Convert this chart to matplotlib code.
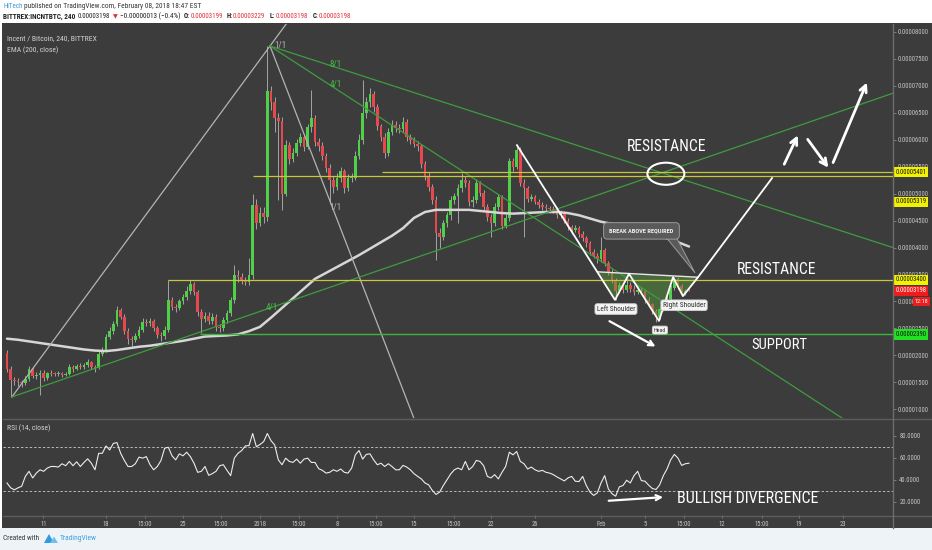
import os
import numpy as np
import matplotlib
matplotlib.use("Agg")
import matplotlib.pyplot as plt
import matplotlib.transforms as mtransforms
from matplotlib import font_manager
from matplotlib.font_manager import FontProperties
from matplotlib.lines import Line2D
from matplotlib.patches import Rectangle, Ellipse, Polygon

# ---------------------------------------------------------------------------
# INCNT/BTC (Bittrex), 8-hour candles starting 9 Dec 2017, prices in 1e-5 BTC
# ---------------------------------------------------------------------------
first_open = 2.05
closes = [
    1.75, 1.55, 1.52, 1.50, 1.48, 1.56, 1.74, 1.62, 1.64, 1.67,
    1.58, 1.67, 1.66, 1.65, 1.67, 1.64, 1.66, 1.78, 1.75, 1.80,
    1.79, 1.82, 1.88, 1.78, 1.76, 2.02, 2.10, 2.35, 2.45, 2.58,
    2.85, 2.72, 2.45, 2.30, 2.28, 2.36, 2.48, 2.62, 2.60, 2.64,
    2.50, 2.38, 2.36, 2.48, 3.02, 2.90, 2.88, 3.00, 3.08, 3.20,
    3.32, 3.18, 2.80, 2.68, 2.74, 2.64, 2.72, 2.52, 2.50, 2.66,
    2.78, 3.02, 3.50, 3.45, 3.40, 3.36, 3.50, 4.79, 4.46, 4.64,
    4.57, 6.90, 6.70, 6.40, 6.35, 5.00, 5.90, 5.65, 5.76, 5.94,
    6.05, 5.87, 6.24, 6.40, 5.95, 5.88, 5.70, 5.48, 5.25, 5.12,
    5.30, 5.42, 5.10, 5.30, 5.30, 5.70, 6.00, 6.50, 6.70, 6.85,
    6.60, 6.25, 6.05, 5.75, 6.15, 6.28, 6.22, 6.20, 6.33, 6.05,
    6.00, 5.92, 5.88, 5.55, 5.32, 5.12, 4.88, 4.27, 4.20, 4.45,
    4.60, 4.88, 4.95, 5.10, 5.25, 5.20, 4.85, 4.88, 5.20, 5.01,
    4.75, 4.57, 4.46, 4.75, 4.94, 4.40, 4.55, 5.60, 5.50, 5.81,
    5.20, 5.10, 4.90, 4.94, 4.85, 4.79, 4.75, 4.73, 4.72, 4.70,
    4.60, 4.64, 4.50, 4.38, 4.33, 4.36, 4.25, 4.18, 4.08, 3.92,
    3.85, 3.78, 3.96, 3.72, 3.55, 3.40, 3.20, 3.30, 3.22, 3.30,
    3.24, 3.18, 3.22, 3.20, 3.02, 2.95, 2.82, 2.72, 2.86, 2.98,
    3.05, 3.25, 3.42, 3.28, 3.16, 3.199, 3.198,
]
highs = [
    2.10, 1.80, 1.60, 1.58, 1.55, 1.62, 1.80, 1.78, 1.70, 1.72,
    1.72, 1.70, 1.72, 1.70, 1.71, 1.70, 1.70, 1.84, 1.82, 1.84,
    1.85, 1.86, 1.93, 1.90, 1.82, 2.08, 2.16, 2.40, 2.52, 2.64,
    2.92, 2.88, 2.76, 2.50, 2.36, 2.42, 2.55, 2.70, 2.68, 2.70,
    2.68, 2.55, 2.44, 2.55, 3.40, 3.08, 2.96, 3.05, 3.14, 3.28,
    3.40, 3.36, 3.22, 2.86, 2.80, 2.80, 2.78, 2.76, 2.58, 2.72,
    2.84, 3.08, 3.68, 3.58, 3.52, 3.46, 3.80, 5.00, 4.90, 4.76,
    4.75, 7.74, 7.00, 6.80, 6.50, 6.42, 6.00, 5.96, 5.84, 6.02,
    6.12, 6.10, 6.30, 6.92, 6.46, 6.04, 5.95, 5.76, 5.55, 5.32,
    5.38, 5.50, 5.46, 5.36, 5.38, 5.80, 6.10, 7.11, 6.80, 6.96,
    6.90, 6.66, 6.30, 6.12, 6.22, 6.36, 6.34, 6.30, 6.42, 6.38,
    6.10, 6.06, 5.98, 5.92, 5.60, 5.40, 5.18, 4.95, 4.36, 4.52,
    4.66, 4.95, 5.02, 5.18, 5.38, 5.32, 5.26, 4.95, 5.28, 5.24,
    5.06, 4.80, 4.62, 4.82, 5.00, 4.98, 4.62, 5.66, 5.66, 5.90,
    5.86, 5.28, 5.14, 5.00, 4.98, 4.90, 4.84, 4.80, 4.78, 4.77,
    4.76, 4.70, 4.68, 4.55, 4.42, 4.42, 4.40, 4.30, 4.22, 4.12,
    3.98, 3.90, 4.20, 4.00, 3.76, 3.60, 3.44, 3.36, 3.34, 3.51,
    3.36, 3.30, 3.28, 3.26, 3.24, 3.08, 2.98, 2.86, 2.90, 3.02,
    3.10, 3.30, 3.46, 3.45, 3.32, 3.24, 3.229,
]
lows = [
    1.70, 1.23, 1.45, 1.44, 1.42, 1.45, 1.52, 1.58, 1.56, 1.27,
    1.52, 1.55, 1.62, 1.61, 1.62, 1.60, 1.61, 1.64, 1.70, 1.72,
    1.74, 1.75, 1.78, 1.74, 1.70, 1.74, 1.98, 2.06, 2.30, 2.40,
    2.54, 2.68, 2.40, 2.22, 2.18, 2.24, 2.32, 2.44, 2.54, 2.55,
    2.45, 2.32, 2.26, 2.30, 2.44, 2.84, 2.80, 2.84, 2.95, 3.02,
    3.14, 3.12, 2.74, 2.42, 2.62, 2.58, 2.58, 2.46, 2.44, 2.46,
    2.60, 2.74, 2.98, 3.36, 3.32, 3.30, 3.30, 3.42, 4.35, 4.40,
    4.45, 4.50, 6.55, 6.14, 4.88, 4.70, 4.95, 5.55, 5.58, 5.70,
    5.88, 5.80, 5.82, 6.15, 5.88, 5.80, 5.62, 5.40, 4.83, 5.02,
    5.06, 5.22, 5.01, 5.05, 5.22, 5.25, 5.64, 5.92, 6.40, 6.60,
    6.52, 6.18, 5.98, 5.66, 5.70, 6.08, 6.14, 6.12, 6.14, 5.98,
    5.92, 5.86, 5.80, 5.48, 5.26, 5.05, 4.80, 3.77, 4.00, 4.14,
    4.38, 4.52, 4.80, 4.45, 5.04, 5.12, 4.78, 4.75, 4.82, 4.95,
    4.70, 4.50, 4.20, 4.40, 4.70, 4.34, 4.36, 4.50, 5.42, 5.45,
    5.14, 4.20, 4.84, 4.86, 4.80, 4.74, 4.70, 4.68, 4.66, 4.64,
    4.55, 4.55, 4.45, 4.32, 4.26, 4.28, 4.20, 4.12, 4.02, 3.86,
    3.80, 3.72, 3.74, 3.66, 3.50, 3.34, 3.03, 3.16, 3.16, 3.18,
    3.18, 3.12, 3.14, 3.14, 2.98, 2.90, 2.76, 2.62, 2.68, 2.82,
    2.94, 3.00, 3.22, 3.24, 3.10, 3.12, 3.198,
]
# RSI(14) sampled on the same 8-hour grid
rsi = [
    37.0, 32.6, 30.8, 32.6, 34.0, 43.0, 47.6, 41.6, 46.0, 49.0,
    47.6, 50.6, 52.0, 52.0, 51.5, 54.5, 52.7, 56.6, 52.7, 56.3,
    52.0, 55.7, 59.0, 55.0, 49.0, 64.0, 64.0, 70.7, 67.0, 73.0,
    73.7, 64.0, 57.5, 52.0, 52.0, 54.5, 60.5, 59.6, 61.0, 53.6,
    49.0, 52.0, 57.5, 68.6, 69.5, 61.7, 58.0, 63.5, 61.7, 65.0,
    61.0, 55.0, 46.7, 47.6, 52.0, 44.0, 45.5, 47.6, 52.7, 53.6,
    48.5, 43.7, 59.6, 64.0, 66.5, 70.7, 71.0, 82.0, 70.0, 72.0,
    74.6, 82.0, 75.5, 71.6, 58.0, 53.6, 59.6, 56.6, 55.7, 58.7,
    55.0, 58.7, 59.6, 55.7, 55.7, 50.0, 48.5, 46.0, 46.7, 49.0,
    47.6, 49.7, 46.7, 46.0, 50.6, 62.6, 66.5, 58.7, 63.0, 63.5,
    58.0, 53.6, 55.0, 52.0, 54.5, 52.0, 49.0, 49.0, 53.0, 51.5,
    49.0, 45.5, 43.0, 40.7, 37.0, 35.3, 30.2, 26.6, 28.7, 34.7,
    40.0, 45.2, 49.0, 50.6, 49.0, 56.6, 49.0, 52.0, 57.5, 56.6,
    52.7, 43.0, 41.6, 44.6, 40.7, 46.7, 52.0, 65.0, 62.6, 65.6,
    56.6, 54.5, 49.7, 51.5, 49.0, 47.6, 48.5, 46.7, 46.0, 44.6,
    42.5, 40.7, 38.9, 41.6, 43.0, 38.6, 38.3, 43.0, 34.7, 28.7,
    25.7, 28.0, 37.0, 43.7, 31.7, 27.2, 25.0, 33.5, 34.7, 39.5,
    37.0, 43.7, 47.6, 39.2, 38.6, 35.0, 32.0, 31.1, 35.3, 43.7,
    49.7, 58.0, 63.0, 59.6, 53.0, 54.5, 55.0,
]
# EMA(200, close), one value per day from 9 Dec 2017
ema200 = [
    2.31, 2.29, 2.26, 2.23, 2.20, 2.17, 2.14, 2.11, 2.09, 2.08,
    2.10, 2.13, 2.16, 2.18, 2.21, 2.24, 2.27, 2.31, 2.35, 2.36,
    2.37, 2.39, 2.45, 2.53, 2.70, 2.88, 3.06, 3.24, 3.42, 3.53,
    3.64, 3.75, 3.86, 3.98, 4.10, 4.22, 4.36, 4.55, 4.66, 4.70,
    4.70, 4.70, 4.70, 4.68, 4.66, 4.64, 4.63, 4.64, 4.65, 4.66,
    4.66, 4.64, 4.60, 4.54, 4.48, 4.44, 4.40, 4.37, 4.30, 4.24,
    4.17, 4.10, 4.02,
]
start_day = -23          # days relative to 1 Jan 2018
resistance_upper = 5.401
resistance_upper_b = 5.319
resistance_lower = 3.400
support_level = 2.390
price_ticks = [1.0, 1.5, 2.0, 2.5, 3.0, 3.5, 4.0, 4.5, 5.0, 5.5, 6.0, 6.5, 7.0, 7.5, 8.0]
rsi_ticks = [20, 40, 60, 80]
time_tick_days = [-19.7, -14, -10.45, -7, -3.55, 0, 3.55, 7, 10.55, 14, 17.64,
                  21, 25, 31, 35, 38.55, 42, 45.64, 49, 53]
time_tick_labels = ["11", "18", "15:00", "25", "15:00", "2018", "15:00", "8",
                    "15:00", "15", "15:00", "22", "26", "Feb", "5", "15:00",
                    "12", "15:00", "19", "23"]

# ---------------------------------------------------------------------------
# fonts: prefer a narrow face, fall back to Liberation Sans
_files = [f.fname for f in font_manager.fontManager.ttflist]


def pick_font(keys):
    for k in keys:
        for fn in _files:
            if k.lower() in os.path.basename(fn).lower():
                return fn
    return None


NARROW_REG = pick_font(["LiberationSansNarrow-Regular", "RobotoCondensed-Regular",
                        "DejaVuSansCondensed.ttf", "Condensed-Regular", "Narrow-Regular"])
NARROW_BOLD = pick_font(["LiberationSansNarrow-Bold.", "RobotoCondensed-Bold.",
                         "DejaVuSansCondensed-Bold.", "Condensed-Bold.", "Narrow-Bold."])


def FP(size=6.0, bold=False):
    fn = NARROW_BOLD if bold else NARROW_REG
    if fn:
        return FontProperties(fname=fn, size=size)
    return FontProperties(family="Liberation Sans", weight="bold" if bold else "normal",
                          size=size)


W, H = 932, 550
BG = "#3c3c3c"
fig = plt.figure(figsize=(W / 100, H / 100), dpi=100)
fig.patch.set_facecolor("white")
renderer = fig.canvas.get_renderer()


def fx(px):
    return px / W


def fy(py):
    return 1 - py / H


def rect(x0, y0, x1, y1):
    return [fx(x0), fy(y1), (x1 - x0) / W, (y1 - y0) / H]


def fit(t, target_px):
    """Scale a text's font size so its rendered width is target_px."""
    w = t.get_window_extent(renderer).width
    if w > 0:
        t.set_fontsize(t.get_fontsize() * target_px / w)
    return t


# page furniture
fig.add_artist(Rectangle((fx(2), fy(528)), 930 / W, 505 / H, transform=fig.transFigure,
                         fc=BG, ec="none", zorder=0))
fig.add_artist(Rectangle((0, 0), 1, 22 / H, transform=fig.transFigure,
                         fc="#eef3f7", ec="none", zorder=0))

ax = fig.add_axes(rect(3, 24, 893, 418))
rax = fig.add_axes(rect(3, 420, 893, 515))
for a in (ax, rax):
    a.set_facecolor(BG)
    for s in a.spines.values():
        s.set_visible(False)

XMIN, XMAX = (3 - 260) / 11, (893 - 260) / 11
ax.set_xlim(XMIN, XMAX)
ax.set_ylim(0.8386, 8.148)
rax.set_xlim(XMIN, XMAX)
rax.set_ylim(7.9, 94.27)
ax.set_autoscale_on(False)
rax.set_autoscale_on(False)

for py in (419, 515.5):
    fig.add_artist(Line2D([fx(3), fx(932)], [fy(py), fy(py)], transform=fig.transFigure,
                          color="#5e5e5e", lw=1.0))
fig.add_artist(Line2D([fx(893), fx(893)], [fy(24), fy(528)], transform=fig.transFigure,
                      color="#6e6e6e", lw=1.0))

# ---------------- candles ----------------
c = np.array(closes)
o = np.array([first_open] + closes[:-1])
hi = np.array(highs)
lo = np.array(lows)
days = start_day + np.arange(len(c)) / 3.0
up = c >= o
ax.vlines(days, lo, hi, color="#a4a4a4", lw=0.7, zorder=2)
body = np.maximum(np.abs(c - o), 0.015)
ax.bar(days, body, bottom=np.minimum(o, c), width=0.26,
       color=np.where(up, "#4fcf4a", "#e5484d"), linewidth=0, zorder=3)

ema_days = start_day + np.arange(len(ema200))
ax.plot(ema_days, ema200, color="#d6d6d6", lw=1.8, zorder=4, solid_capstyle="round")


# ---------------- drawings ----------------
def ray(p0, p1, **kw):
    (x0, y0), (x1, y1) = p0, p1
    ax.plot([x0, x0 + (x1 - x0) * 20], [y0, y0 + (y1 - y0) * 20], **kw)


GREEN = "#3f9c3f"
GREY = "#b4b4b4"
pivot_low = (-22.55, 1.23)
pivot_high = (0.91, 7.74)
ray(pivot_low, pivot_high, color=GREY, lw=0.9, zorder=5)
ray(pivot_high, (13.64, 1.02), color=GREY, lw=0.9, zorder=5)
ray(pivot_high, (57.55, 4.00), color=GREEN, lw=0.9, zorder=5)
ray(pivot_high, (52.9, 0.84), color=GREEN, lw=0.9, zorder=5)
ray(pivot_low, (40.0, 5.63), color=GREEN, lw=0.9, zorder=5)

for (dx, py_, s, col, ha) in [(1.3, 7.74, "1/1", GREY, "left"),
                              (6.9, 7.39, "8/1", "#46c046", "center"),
                              (6.9, 7.02, "4/1", "#46c046", "center"),
                              (6.9, 4.75, "1/1", GREY, "center"),
                              (1.1, 2.88, "4/1", "#46c046", "center")]:
    ax.text(dx, py_, s, color=col, va="center", ha=ha, fontproperties=FP(6.5), zorder=6)

YELLOW = "#c9c63c"
ax.hlines(resistance_upper, 11.1, XMAX, color=YELLOW, lw=0.9, zorder=5)
ax.hlines(resistance_upper_b, -0.64, XMAX, color=YELLOW, lw=0.9, zorder=5)
ax.hlines(resistance_lower, -8.36, XMAX, color=YELLOW, lw=0.9, zorder=5)
ax.hlines(support_level, -5.45, XMAX, color="#3cb43c", lw=1.0, zorder=5)

# head & shoulders
zig_d = [23.36, 32.27, 33.55, 36.27, 37.55, 38.45, 39.82, 46.55]
zig_p = [5.90, 3.03, 3.51, 2.64, 3.45, 3.10, 3.45, 5.29]
fill_pts = [(30.73, 3.55), (32.27, 3.03), (33.55, 3.51), (36.27, 2.64),
            (37.55, 3.45), (38.45, 3.10), (39.82, 3.45)]
ax.add_patch(Polygon(fill_pts, closed=True, fc="#58a83c", ec="none", alpha=0.42, zorder=4))
ax.plot([30.73, 39.82], [3.55, 3.45], color="#e6e6e6", lw=1.0, zorder=6)
ax.plot(zig_d, zig_p, color="white", lw=1.3, zorder=6)

box_kw = dict(boxstyle="round,pad=0.25,rounding_size=0.3", fc="#f4f4f4", ec="#d0d0d0", lw=0.6)
for (dx, py_, s, wpx) in [(32.36, 2.86, "Left Shoulder", 38),
                          (36.36, 2.47, "Head", 12),
                          (38.55, 2.93, "Right Shoulder", 42)]:
    t = ax.text(dx, py_, s, color="#2b2b2b", ha="center", va="center",
                fontproperties=FP(6.5), bbox=box_kw, zorder=8)
    fit(t, wpx)

arrow_kw = dict(arrowstyle="->", color="white", lw=1.6, mutation_scale=9)
ax.annotate("", xy=(36.18, 2.14), xytext=(31.55, 2.66), arrowprops=arrow_kw, zorder=7)
big_arrow = dict(arrowstyle="->", color="white", lw=2.0, mutation_scale=12)
ax.annotate("", xy=(49.0, 6.13), xytext=(47.55, 5.50), arrowprops=big_arrow, zorder=7)
ax.annotate("", xy=(51.82, 5.44), xytext=(49.64, 6.05), arrowprops=big_arrow, zorder=7)
ax.annotate("", xy=(55.27, 7.11), xytext=(52.0, 5.53), arrowprops=big_arrow, zorder=7)

ax.add_patch(Ellipse((36.9, 5.37), width=3.36, height=0.41, fill=False, ec="white",
                     lw=1.5, zorder=7))

# callout
ax.add_patch(Polygon([(37.0, 4.17), (37.9, 4.17), (39.55, 3.53)], closed=True,
                     fc="#5a5a5a", ec="#9a9a9a", lw=0.7, zorder=7))
t = ax.text(34.68, 4.31, "BREAK ABOVE REQUIRED", color="#eeeeee", ha="center", va="center",
            fontproperties=FP(5.5, bold=True), zorder=8,
            bbox=dict(boxstyle="round,pad=0.9,rounding_size=0.6", fc="#5a5a5a",
                      ec="#9a9a9a", lw=0.7))
fit(t, 64)

for (dx, py_, s, wpx) in [(37.0, 5.87, "RESISTANCE", 79),
                          (47.0, 3.59, "RESISTANCE", 79),
                          (47.18, 2.20, "SUPPORT", 56)]:
    t = ax.text(dx, py_, s, color="white", ha="center", va="center",
                fontproperties=FP(11), zorder=8)
    fit(t, wpx)

# ---------------- price axis ----------------
ax.yaxis.tick_right()
ax.set_yticks(price_ticks)
ax.set_yticklabels([f"{v / 1e5:.8f}" for v in price_ticks], fontproperties=FP(6))
ax.tick_params(axis="y", colors="#8a8a8a", labelcolor="#c4c4c4",
               length=2, pad=1.5, width=0.6)
ax.set_xticks([])

rax.yaxis.tick_right()
rax.set_yticks(rsi_ticks)
rax.set_yticklabels([f"{v:.4f}" for v in rsi_ticks], fontproperties=FP(6))
rax.tick_params(axis="y", colors="#8a8a8a", labelcolor="#c4c4c4",
                length=2, pad=2.5, width=0.6)
rax.set_xticks(time_tick_days)
rax.set_xticklabels(time_tick_labels, fontproperties=FP(6))
rax.tick_params(axis="x", colors="#8a8a8a", labelcolor="#c4c4c4",
                length=2, pad=2.5, width=0.6)

fig.canvas.draw()
probe = ax.get_yticklabels()[0]
small = probe.get_fontsize() * 32.0 / probe.get_window_extent(renderer).width
for lab in ax.get_yticklabels() + rax.get_yticklabels() + rax.get_xticklabels():
    lab.set_fontsize(small)

blend = mtransforms.blended_transform_factory(fig.transFigure, ax.transData)


def price_tag(y, text, fc, tc, px=895.5, size=None):
    ax.text(fx(px), y, text, transform=blend, color=tc, ha="left", va="center",
            fontproperties=FP(size or small), zorder=10, clip_on=False,
            bbox=dict(boxstyle="square,pad=0.25", fc=fc, ec="none"))


# last-price / level tags sit on top of the regular scale labels
price_tag(resistance_upper, f"{resistance_upper / 1e5:.8f}", "#f2f200", "#111111")
price_tag(4.846, f"{resistance_upper_b / 1e5:.8f}", "#f2f200", "#111111")
price_tag(resistance_lower, f"{resistance_lower / 1e5:.8f}", "#f2f200", "#111111")
price_tag(closes[-1], f"{closes[-1] / 1e5:.8f}", "#ee1c1c", "white")
price_tag(support_level, f"{support_level / 1e5:.8f}", "#22e022", "#111111")
price_tag(3.0, "12:18", "#ee1c1c", "white", px=914.5, size=small * 0.95)

t = ax.text(fx(7), 7.88, "Incent / Bitcoin, 240, BITTREX", transform=blend, color="#d2d2d2",
            ha="left", va="center", fontproperties=FP(6), zorder=10)
fit(t, 90)
t2 = ax.text(fx(7), 7.67, "EMA (200, close)", transform=blend, color="#d2d2d2",
             ha="left", va="center", fontproperties=FP(t.get_fontsize()), zorder=10)

# ---------------- RSI pane ----------------
rsi_days = start_day + np.arange(len(rsi)) / 3.0
rax.plot(rsi_days, rsi, color="#ececec", lw=0.8, zorder=3)
rax.axhline(70, color="#b8b8b8", lw=0.7, ls=(0, (2.5, 2)), zorder=2)
rax.axhline(30, color="#b8b8b8", lw=0.7, ls=(0, (2.5, 2)), zorder=2)
rblend = mtransforms.blended_transform_factory(fig.transFigure, rax.transData)
rax.text(fx(7), 86.5, "RSI (14, close)", transform=rblend, color="#d2d2d2",
         ha="left", va="center", fontproperties=FP(t.get_fontsize()), zorder=10)
rax.annotate("", xy=(36.9, 24.3), xytext=(31.45, 20.7),
             arrowprops=dict(arrowstyle="->", color="white", lw=1.6, mutation_scale=9))
t = rax.text(44.32, 23.0, "BULLISH DIVERGENCE", color="white", ha="center",
             va="center", fontproperties=FP(11))
fit(t, 140)

# ---------------- header and footer ----------------
RED = "#e0303a"
DARK = "#222222"


def header_piece(s, x0, width, py, col, bold=False, size=None, sym=False):
    fp = FontProperties(family="DejaVu Sans", size=6) if sym else FP(6, bold)
    tt = fig.text(fx(x0), fy(py), s, color=col, fontproperties=fp, ha="left", va="center")
    if size is not None:
        tt.set_fontsize(size)
    else:
        fit(tt, width)
    return tt


header_piece("HiTech", 3, 19, 6.5, "#3a9ad9")
header_piece("published on TradingView.com, February 08, 2018 18:47 EST", 24, 175, 6.5,
             "#333333")
header_piece("BITTREX:INCNTBTC, 240", 3, 73, 16.5, DARK, bold=True)
num = header_piece("0.00003198", 78, 33, 16.5, DARK)
ns = num.get_fontsize()
header_piece("\u25bc", 112.5, 0, 16.5, RED, size=ns * 0.9, sym=True)
header_piece("\u22120.00000013 (\u22120.4%)", 120, 62, 16.5, DARK)
for lab, lx, val, vx in [("O:", 184, "0.00003199", 190.5), ("H:", 226.5, "0.00003229", 232.5),
                         ("L:", 270, "0.00003198", 275.5), ("C:", 313, "0.00003198", 318.5)]:
    header_piece(lab, lx, 0, 16.5, DARK, bold=True, size=ns)
    header_piece(val, vx, 0, 16.5, RED, size=ns)

t = fig.text(fx(3), fy(539), "Created with", color="#333333", ha="left", va="center",
             fontproperties=FP(6))
fit(t, 36)
fig.add_artist(Polygon([(fx(44), fy(543)), (fx(49), fy(534)), (fx(54), fy(543))],
                       closed=True, transform=fig.transFigure, fc="#2e9be0", ec="none"))
fig.add_artist(Polygon([(fx(50), fy(543)), (fx(54), fy(536.5)), (fx(58), fy(543))],
                       closed=True, transform=fig.transFigure, fc="#6fc0f0", ec="none"))
t = fig.text(fx(60), fy(539), "TradingView", color="#3ba0e0", ha="left", va="center",
             fontproperties=FP(6))
fit(t, 37)

fig.savefig("out.png", dpi=100, facecolor=fig.get_facecolor())
